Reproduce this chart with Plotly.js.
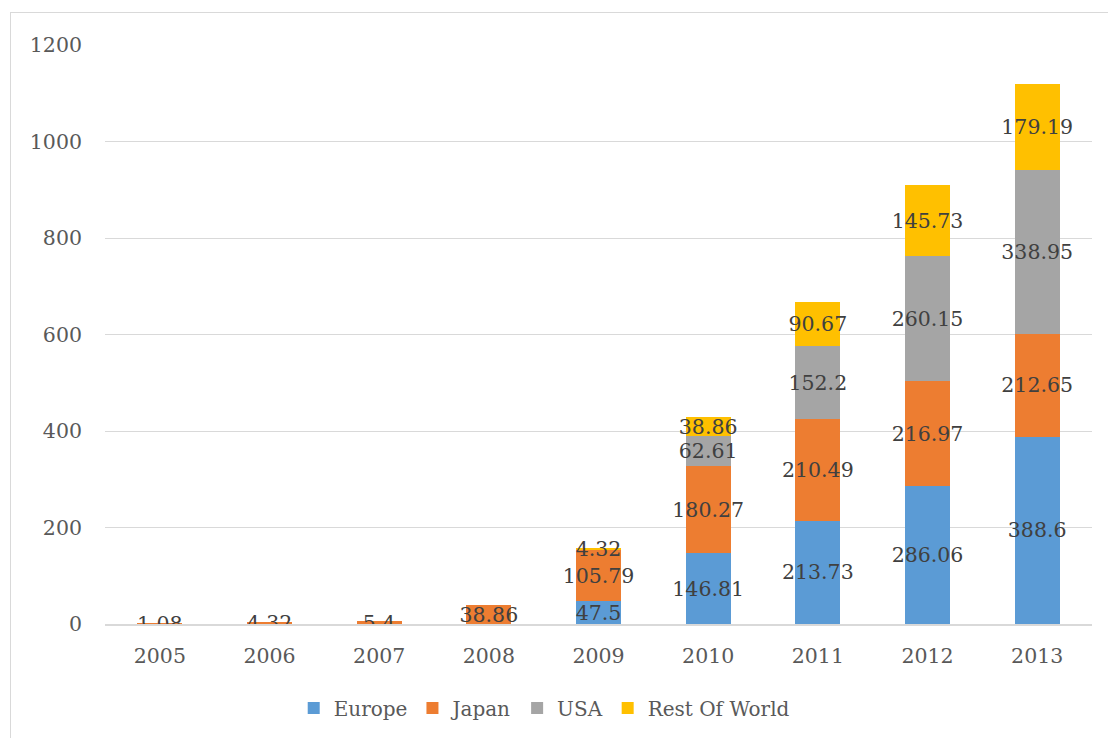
<!DOCTYPE html>
<html>
<head>
<meta charset="utf-8">
<script src="https://cdn.plot.ly/plotly-3.0.1.min.js"></script>
<style>
  html, body { margin: 0; padding: 0; background: #ffffff; overflow: hidden; }
  #chart { width: 1108px; height: 738px; }
  #frame {
    position: absolute; left: 10px; top: 12px; width: 1200px; height: 760px;
    border: 1px solid #d9d9d9; pointer-events: none;
  }
</style>
</head>
<body>
<div id="chart"></div>
<div id="frame"></div>
<script>
// Installed capacity by region, 2005–2013
const years = ['2005', '2006', '2007', '2008', '2009', '2010', '2011', '2012', '2013'];
const europe = [0, 0, 0, 0, 47.5, 146.81, 213.73, 286.06, 388.6];
const japan = [1.08, 4.32, 5.4, 38.86, 105.79, 180.27, 210.49, 216.97, 212.65];
const usa = [0, 0, 0, 0, 0, 62.61, 152.2, 260.15, 338.95];
const restOfWorld = [0, 0, 0, 0, 4.32, 38.86, 90.67, 145.73, 179.19];
const yTicks = [0, 200, 400, 600, 800, 1000, 1200];

const FONT = 'DejaVu Serif, Liberation Serif, serif';

function series(name, values, color) {
  return {
    type: 'bar',
    name: name,
    x: years,
    y: values,
    text: values.map(v => (v > 0 ? String(v) : '')),
    texttemplate: '%{text}',
    textposition: 'inside',
    insidetextanchor: 'middle',
    constraintext: 'none',
    textangle: 0,
    textfont: { family: FONT, size: 20.5, color: '#404040' },
    marker: { color: color },
    hoverinfo: 'skip'
  };
}

const data = [
  series('Europe', europe, '#5B9BD5'),
  series('Japan', japan, '#ED7D31'),
  series('USA', usa, '#A5A5A5'),
  series('Rest Of World', restOfWorld, '#FFC000')
];

const layout = {
  width: 1108,
  height: 738,
  barmode: 'stack',
  bargap: 0.59,
  margin: { l: 105, r: 16, t: 45, b: 114, autoexpand: false },
  paper_bgcolor: '#ffffff',
  plot_bgcolor: '#ffffff',
  font: { family: FONT, size: 20.5, color: '#595959' },
  showlegend: true,
  legend: {
    orientation: 'h',
    x: 0.445, xanchor: 'center',
    y: -0.145, yanchor: 'middle',
    font: { family: FONT, size: 20, color: '#595959' },
    itemwidth: 30,
    traceorder: 'normal'
  },
  xaxis: {
    type: 'category',
    showgrid: false,
    showline: true,
    linecolor: '#d9d9d9',
    linewidth: 1.5,
    ticks: '',
    tickangle: 0,
    ticklabelstandoff: 13,
    tickfont: { family: FONT, size: 20.5, color: '#595959' }
  },
  yaxis: {
    range: [0, 1200],
    tickvals: yTicks,
    ticktext: yTicks.map(String),
    showgrid: true,
    gridcolor: '#d9d9d9',
    gridwidth: 1,
    zeroline: false,
    showline: false,
    ticks: '',
    ticklabelstandoff: 22,
    tickfont: { family: FONT, size: 20.5, color: '#595959' }
  }
};

Plotly.newPlot('chart', data, layout, { displayModeBar: false, staticPlot: true });
</script>
</body>
</html>
